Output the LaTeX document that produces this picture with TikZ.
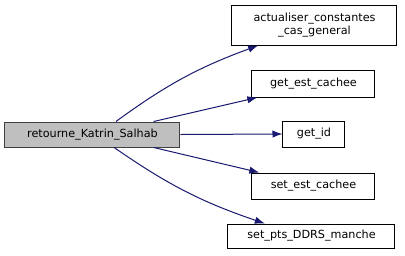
\documentclass[tikz,border=0pt]{standalone}
\usepackage{fontspec}
\setmainfont{DejaVu Sans}
\usetikzlibrary{arrows.meta}

\tikzset{
  fnbox/.style={draw=black, fill=white, line width=0.75pt, inner sep=0pt,
    font=\fontsize{8.4}{10}\selectfont, align=center},
  edge/.style={draw={rgb,255:red,25;green,25;blue,112}, line width=0.75pt,
    -{Latex[length=7.5pt,width=5.5pt]}}
}

\begin{document}
\begin{tikzpicture}[x=0.75pt,y=-0.75pt]
	\useasboundingbox (0,0) rectangle (405,255);
	
	% calling function
	\node[fnbox, fill={rgb,255:red,191;green,191;blue,191}, draw={rgb,255:red,64;green,64;blue,64},
	  minimum width=131.25pt, minimum height=18.75pt] (main) at (92.5,134.5) {retourne\_Katrin\_Salhab};
	
	% called functions
	\node[fnbox, minimum width=123.75pt, minimum height=30pt] (act) at (314.5,25)
	  {actualiser\_constantes\\\_cas\_general};
	\node[fnbox, minimum width=92.25pt, minimum height=20.25pt] (gec) at (313.5,83.5) {get\_est\_cachee};
	\node[fnbox, minimum width=46.5pt, minimum height=19.5pt] (gid) at (314,134) {get\_id};
	\node[fnbox, minimum width=92.25pt, minimum height=19.5pt] (sec) at (313.5,186) {set\_est\_cachee};
	\node[fnbox, minimum width=125.25pt, minimum height=18pt] (spd) at (311.5,236) {set\_pts\_DDRS\_manche};
	
	% calls
	\draw[edge] (main.29) to[bend left=8] (act.200);
	\draw[edge] (main.12) -- (gec.194);
	\draw[edge] (main.east) -- (gid.west);
	\draw[edge] (main.-12) -- (sec.166);
	\draw[edge] (main.-31) to[bend right=8] (spd.165);
\end{tikzpicture}
\end{document}
